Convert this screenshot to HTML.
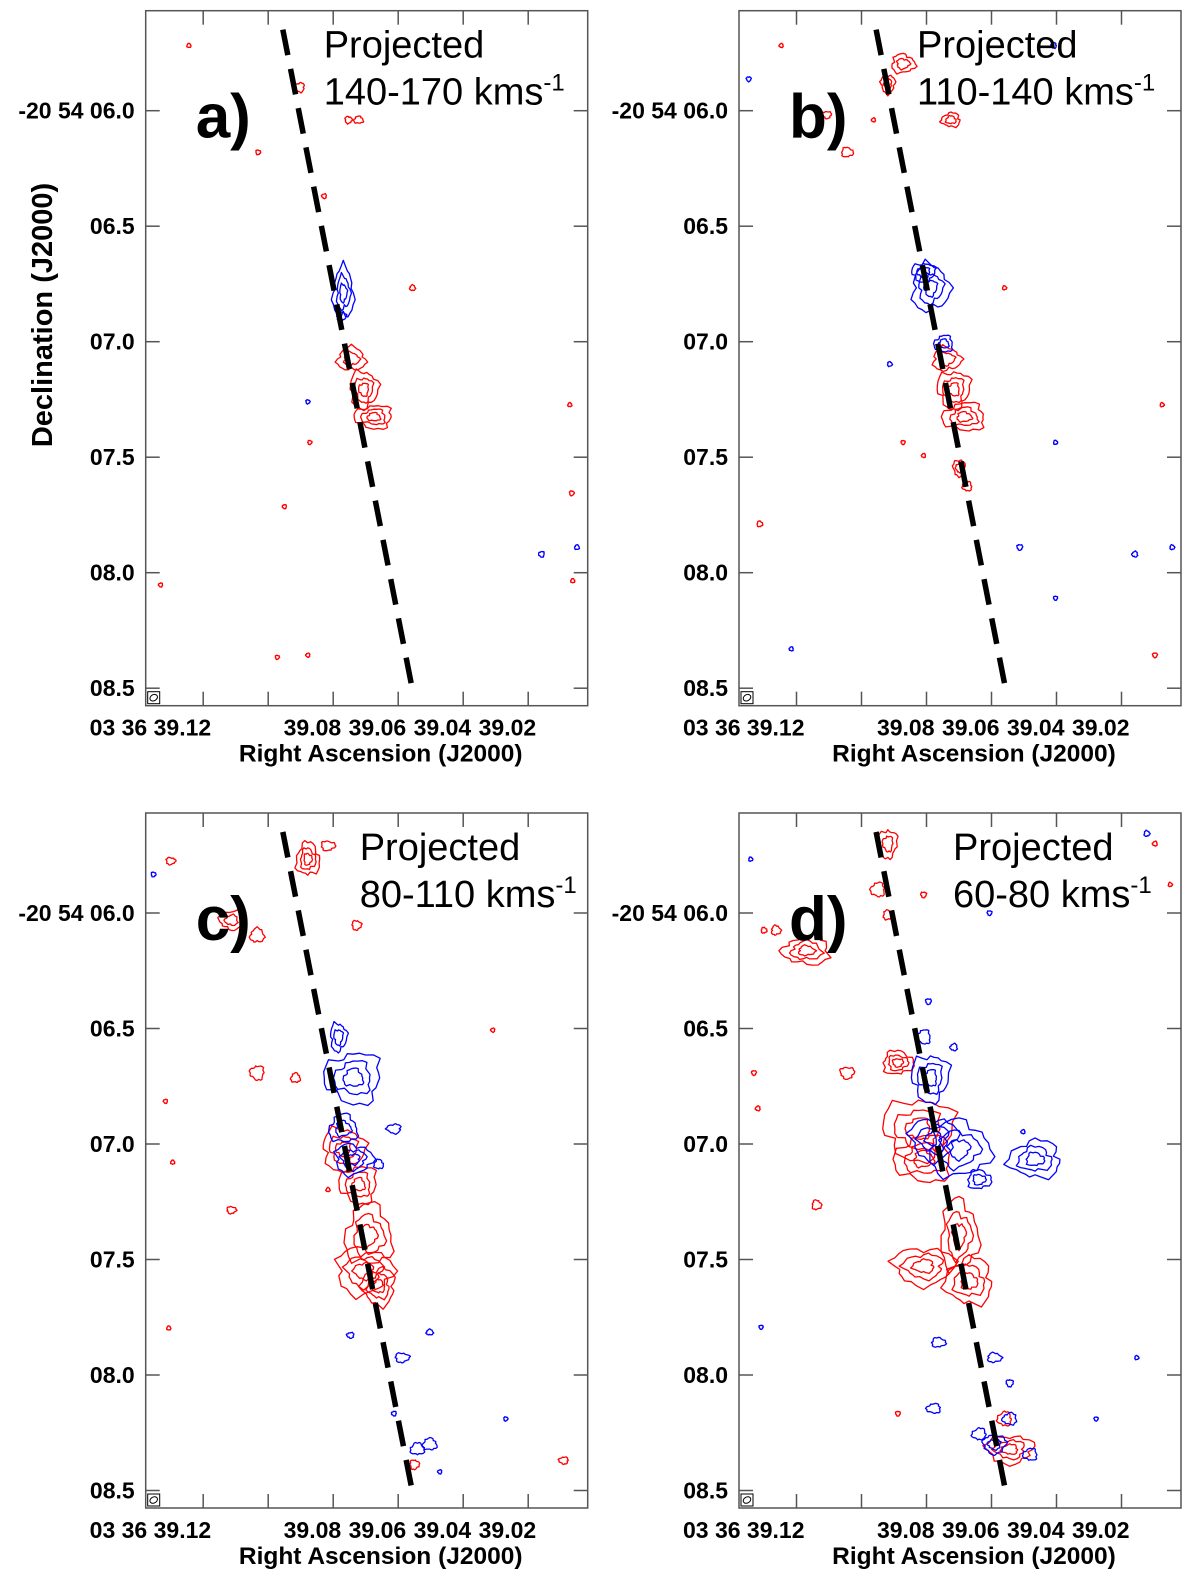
<!DOCTYPE html>
<html><head><meta charset="utf-8"><style>
html,body{margin:0;padding:0;background:#fff;}
svg{display:block;}
text{font-family:"Liberation Sans",sans-serif;}
.lab{font-weight:bold;font-size:23px;fill:#000;}
.ttl{font-weight:bold;font-size:24.5px;fill:#000;}
.proj{font-size:38px;fill:#000;}
.pl{font-weight:bold;font-size:62px;fill:#000;}
</style></head><body>
<svg id="fig" width="1200" height="1594" viewBox="0 0 1200 1594" xmlns="http://www.w3.org/2000/svg"></svg>
<script>
// ---- data (RA seconds, Dec arcsec offset, rx/ry in arcsec) ----
const decTicks = [6.0, 6.5, 7.0, 7.5, 8.0, 8.5];
const decLabels = ["-20 54 06.0", "06.5", "07.0", "07.5", "08.0", "08.5"];
const raTicks = [39.12, 39.10, 39.08, 39.06, 39.04, 39.02];
const raLabels = ["03 36 39.12", "", "39.08", "39.06", "39.04", "39.02"];
const axisLine = [[39.0955, 5.649], [39.0555, 8.515]];
const panelNames = ["a)", "b)", "c)", "d)"];
const velRanges = ["140-170", "110-140", "80-110", "60-80"];

const blueA = [[39.0769,6.789,.044,.11],[39.0775,6.89,.02,.02],[39.0159,7.92,.012,.012],[39.005,7.89,.01,.01],[39.0878,7.26,.008,.008]];
const redA = [[39.0744,7.075,.06,.05],[39.0706,7.207,.06,.08],[39.0675,7.326,.08,.05],[39.0722,6.04,.02,.015],[39.0753,6.04,.015,.015],[39.0903,5.899,.02,.02],[39.1244,5.718,.008,.008],[39.1031,6.18,.01,.01],[39.0828,6.37,.01,.01],[39.0556,6.767,.012,.012],[39.0872,7.436,.006,.006],[39.095,7.714,.008,.008],[39.0072,7.273,.008,.008],[39.0066,7.656,.01,.01],[39.1331,8.053,.006,.006],[39.0063,8.035,.006,.006],[39.0972,8.366,.006,.006],[39.0878,8.357,.008,.008]];

const blueB = [[39.0788,6.767,.08,.1],[39.0809,6.70,.05,.04],[39.0747,7.009,.04,.035],[39.0913,7.097,.01,.01],[39.1347,5.863,.01,.01],[39.0409,5.718,.012,.012],[39.0403,7.436,.006,.006],[39.0513,7.89,.012,.012],[39.0159,7.92,.012,.012],[39.0044,7.89,.01,.01],[39.0403,8.11,.008,.008],[39.1216,8.33,.008,.008]];
const redB = [[39.0738,7.075,.06,.05],[39.0716,7.207,.07,.08],[39.0684,7.326,.09,.06],[39.0872,5.797,.05,.04],[39.0919,5.885,.03,.04],[39.0725,6.04,.04,.03],[39.1044,6.18,.025,.02],[39.1106,6.018,.018,.015],[39.0963,6.04,.008,.008],[39.056,6.767,.008,.008],[39.0872,7.436,.006,.006],[39.0809,7.493,.008,.008],[39.0075,7.273,.006,.006],[39.07,7.546,.025,.035],[39.0675,7.626,.02,.02],[39.1313,7.789,.012,.012],[39.0097,8.357,.01,.01],[39.1247,5.718,.008,.008]];

const blueC = [[39.0784,6.537,.035,.06],[39.0738,6.714,.12,.11],[39.0769,6.934,.06,.06],[39.0738,7.066,.08,.065],[39.0613,6.934,.03,.02],[39.066,7.088,.02,.02],[39.1353,5.833,.01,.01],[39.0747,7.828,.015,.012],[39.0503,7.815,.015,.012],[39.0588,7.925,.03,.02],[39.0613,8.167,.01,.01],[39.0503,8.3,.03,.025],[39.0269,8.19,.006,.006],[39.0472,8.419,.006,.006],[39.0541,8.32,.03,.025]];
const redC = [[39.0769,7.022,.09,.09],[39.0722,7.176,.08,.08],[39.0691,7.396,.1,.13],[39.0706,7.55,.12,.1],[39.066,7.617,.07,.08],[39.0878,5.767,.05,.07],[39.0816,5.709,.03,.02],[39.1113,6.031,.05,.04],[39.1034,6.097,.03,.03],[39.0728,6.053,.02,.02],[39.1034,6.692,.03,.03],[39.0916,6.714,.02,.02],[39.13,5.775,.02,.015],[39.1316,6.815,.006,.006],[39.1294,7.079,.006,.006],[39.1113,7.286,.02,.015],[39.0309,6.507,.006,.006],[39.1306,7.797,.008,.008],[39.055,8.388,.02,.02],[39.0091,8.37,.02,.015],[39.0816,7.198,.008,.008]];

const blueD = [[39.0788,6.714,.08,.1],[39.0809,6.537,.03,.03],[39.07,7.022,.13,.12],[39.0778,6.978,.1,.09],[39.0466,7.066,.11,.08],[39.0638,7.154,.05,.04],[39.0794,6.383,.012,.012],[39.0716,6.581,.015,.015],[39.0591,7.925,.03,.02],[39.0544,8.035,.015,.015],[39.0778,8.145,.03,.02],[39.0153,7.925,.008,.008],[39.0278,8.19,.006,.006],[39.0638,8.256,.03,.025],[39.0763,7.859,.03,.02],[39.0591,8.3,.05,.04],[39.0544,8.19,.03,.025],[39.1341,5.767,.008,.008],[39.1309,7.793,.008,.008],[39.0503,6.947,.006,.006],[39.0122,5.656,.012,.012],[39.0606,6.0,.01,.01],[39.0481,8.344,.03,.025]];
const redD = [[39.0825,6.934,.15,.13],[39.0809,7.066,.12,.1],[39.07,7.396,.08,.15],[39.0809,7.529,.13,.08],[39.0669,7.595,.1,.1],[39.0888,6.648,.065,.05],[39.1044,6.692,.03,.025],[39.1169,6.163,.1,.06],[39.1263,6.075,.02,.02],[39.0919,5.7,.04,.06],[39.095,5.899,.03,.03],[39.0919,6.009,.02,.02],[39.0544,8.322,.1,.06],[39.056,8.19,.03,.03],[39.13,6.075,.012,.012],[39.1331,6.692,.01,.01],[39.1319,6.846,.01,.01],[39.1138,7.264,.02,.02],[39.0888,8.167,.01,.01],[39.0097,5.7,.01,.01],[39.005,5.877,.008,.008],[39.0809,5.921,.012,.012]];

const panelOrigins = [[145.7,10.7],[739,10.7],[145.7,813],[739,813]];
const blues = [blueA, blueB, blueC, blueD];
const reds = [redA, redB, redC, redD];

const NS = "http://www.w3.org/2000/svg";
const svg = document.getElementById('fig');
const W = 442, H = 695;
function mk(tag, attrs, parent) {
  const e = document.createElementNS(NS, tag);
  for (const k in attrs) e.setAttribute(k, attrs[k]);
  (parent || svg).appendChild(e);
  return e;
}
function xs(ox) { return ra => ox + 187.5 + (39.08 - ra) / 0.02 * 65; }
function ys(oy) { return dec => oy + 100 + (dec - 6.0) * 231; }

function blobPath(cx, cy, rx, ry, seed) {
  const n = 28; let d = "";
  for (let i = 0; i <= n; i++) {
    const t = i / n * Math.PI * 2;
    const w = 1 + 0.13 * Math.sin(3 * t + seed) + 0.09 * Math.sin(7 * t + seed * 1.7) + 0.06 * Math.sin(11 * t + seed * 2.3);
    const px = cx + Math.cos(t) * rx * w, py = cy + Math.sin(t) * ry * w;
    d += (i ? "L" : "M") + px.toFixed(1) + "," + py.toFixed(1);
  }
  return d + "Z";
}

for (let p = 0; p < 4; p++) {
  const [ox, oy] = panelOrigins[p];
  const X = xs(ox), Y = ys(oy);
  const g = mk('g', {});
  
  

  const cg = mk('g', {fill: 'none', 'stroke-width': 1.3, 'stroke-linejoin': 'round'}, g);
  
  
  [[reds[p], '#f00', 'red-contour'], [blues[p], '#00f', 'blue-contour']].forEach(([arr, col, nm]) => {
    arr.forEach((b, i) => {
      const cx = X(b[0]), cy = Y(b[1]);
      const rx = Math.max(2, b[2] * 231), ry = Math.max(2, b[3] * 231);
      const levels = (rx > 14 || ry > 14) ? [1, 0.65, 0.35] : (rx > 7 || ry > 7) ? [1, 0.55] : [1];
      levels.forEach((s, j) => {
        const path = mk('path', {d: blobPath(cx, cy, rx * s, ry * s, i * 2.1 + j + p), stroke: col}, cg);
        
        
      });
    });
  });

  const ln = mk('line', {x1: X(axisLine[0][0]), y1: Y(axisLine[0][1]), x2: X(axisLine[1][0]), y2: Y(axisLine[1][1]), stroke: '#000', 'stroke-width': 5.5, 'stroke-dasharray': '26,14'}, g);
  
  

  const fr = mk('rect', {x: ox, y: oy, width: W, height: H, fill: 'none', stroke: '#555', 'stroke-width': 1.5}, g);
  
  

  raTicks.forEach((r, i) => {
    const x = X(r);
    mk('line', {x1: x, y1: oy, x2: x, y2: oy + 14, stroke: '#555', 'stroke-width': 1.5}, g);
    mk('line', {x1: x, y1: oy + H, x2: x, y2: oy + H - 14, stroke: '#555', 'stroke-width': 1.5}, g);
    if (raLabels[i]) {
      const t = mk('text', {x: x + 8, y: oy + H + 30, 'text-anchor': 'end', class: 'lab'}, g);
      t.textContent = raLabels[i];
      
      
    }
  });
  decTicks.forEach((d, i) => {
    const y = Y(d);
    mk('line', {x1: ox, y1: y, x2: ox + 14, y2: y, stroke: '#555', 'stroke-width': 1.5}, g);
    mk('line', {x1: ox + W, y1: y, x2: ox + W - 14, y2: y, stroke: '#555', 'stroke-width': 1.5}, g);
    const t = mk('text', {x: ox - 11, y: y + 8, 'text-anchor': 'end', class: 'lab'}, g);
    t.textContent = decLabels[i];
    
    
  });

  const bb = mk('rect', {x: ox + 2, y: oy + H - 14, width: 12, height: 12, fill: '#fff', stroke: '#000', 'stroke-width': 1}, g);
  
  
  mk('ellipse', {cx: ox + 8, cy: oy + H - 8, rx: 4, ry: 3, fill: 'none', stroke: '#000', 'stroke-width': 1, transform: `rotate(-30 ${ox + 8} ${oy + H - 8})`}, g);

  const xt = mk('text', {x: ox + 235, y: oy + H + 56, 'text-anchor': 'middle', class: 'ttl'}, g);
  xt.textContent = 'Right Ascension (J2000)';
  
  

  const pl = mk('text', {x: ox + 50, y: oy + 127, class: 'pl'}, g);
  pl.textContent = panelNames[p];
  
  

  const tx = (p < 2) ? ox + 178 : ox + 214;
  const t1 = mk('text', {x: tx, y: oy + 47, class: 'proj'}, g);
  t1.textContent = 'Projected';
  
  
  const t2 = mk('text', {x: tx, y: oy + 94, class: 'proj'}, g);
  
  
  t2.textContent = velRanges[p] + ' kms';
  const sup = mk('tspan', {dy: -14, 'font-size': 24}, t2);
  sup.textContent = '-1';
}

const yt = mk('text', {x: 0, y: 0, 'text-anchor': 'middle', class: 'ttl', style: 'font-size:29px', transform: 'translate(52,315) rotate(-90)'});
yt.textContent = 'Declination (J2000)';


</script>
</body></html>
